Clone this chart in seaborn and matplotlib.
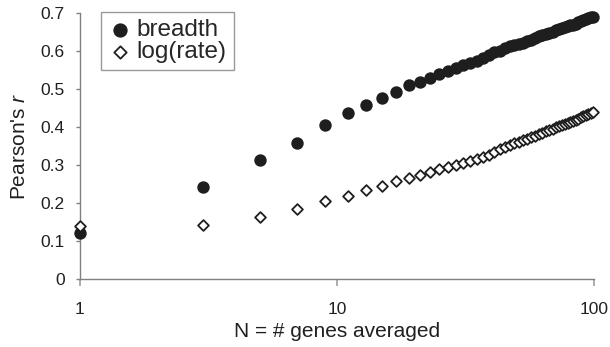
import numpy as np
import pandas as pd
import matplotlib
matplotlib.use("Agg")
import matplotlib.pyplot as plt
import seaborn as sns
from matplotlib.ticker import FixedLocator, NullLocator, FixedFormatter

# data: odd N from 1 to 99
n_genes = list(range(1, 100, 2))

breadth = [0.122, 0.242, 0.314, 0.360, 0.405, 0.437, 0.458, 0.478, 0.494, 0.512,
           0.520, 0.529, 0.540, 0.549, 0.557, 0.563, 0.569, 0.575, 0.582, 0.590,
           0.597, 0.602, 0.608, 0.613, 0.617, 0.620, 0.623, 0.627, 0.631, 0.635,
           0.639, 0.642, 0.645, 0.648, 0.652, 0.656, 0.658, 0.661, 0.663, 0.666,
           0.668, 0.670, 0.673, 0.676, 0.679, 0.682, 0.685, 0.687, 0.689, 0.691]

log_rate = [0.140, 0.143, 0.165, 0.186, 0.205, 0.218, 0.236, 0.245, 0.258, 0.266,
            0.274, 0.283, 0.290, 0.296, 0.300, 0.305, 0.311, 0.316, 0.322, 0.328,
            0.336, 0.344, 0.349, 0.354, 0.358, 0.362, 0.366, 0.370, 0.374, 0.378,
            0.382, 0.386, 0.389, 0.392, 0.396, 0.400, 0.403, 0.406, 0.408, 0.411,
            0.414, 0.416, 0.420, 0.423, 0.426, 0.429, 0.432, 0.435, 0.438, 0.441]

x_ticks = [1, 10, 100]
x_labels = ["1", "10", "100"]
y_ticks = [0, 0.1, 0.2, 0.3, 0.4, 0.5, 0.6, 0.7]
y_labels = ["0", "0.1", "0.2", "0.3", "0.4", "0.5", "0.6", "0.7"]

df = pd.DataFrame({"N": n_genes, "breadth": breadth, "log(rate)": log_rate})

sns.set_style("white")
plt.rcParams['font.family'] = ['Liberation Sans', 'DejaVu Sans']
plt.rcParams['mathtext.fontset'] = 'custom'
plt.rcParams['mathtext.it'] = 'Liberation Sans:italic'
plt.rcParams['mathtext.rm'] = 'Liberation Sans'

grey = '#808080'
ink = '#1e1e1e'

fig = plt.figure(figsize=(6.1, 3.47), dpi=100)
ax = fig.add_axes([0.1311, 0.195, 0.8427, 0.7667])

sns.scatterplot(data=df, x="N", y="breadth", ax=ax, s=80, color=ink,
                edgecolor=ink, linewidth=0, marker='o', label="breadth",
                clip_on=False, zorder=3)
sns.scatterplot(data=df, x="N", y="log(rate)", ax=ax, s=30, facecolor='white',
                edgecolor=ink, linewidth=1.3, marker='D', label="log(rate)",
                clip_on=False, zorder=4)

ax.set_xscale('log')
ax.set_xlim(1, 100)
ax.set_ylim(0, 0.7)
ax.xaxis.set_major_locator(FixedLocator(x_ticks))
ax.xaxis.set_major_formatter(FixedFormatter(x_labels))
ax.xaxis.set_minor_locator(NullLocator())
ax.set_yticks(y_ticks)
ax.set_yticklabels(y_labels)

for side in ['top', 'right']:
    ax.spines[side].set_visible(False)
for side in ['left', 'bottom']:
    ax.spines[side].set_color(grey)
    ax.spines[side].set_linewidth(1.0)

ax.tick_params(axis='x', direction='out', length=5, width=1.2, color='#a0a0a0',
               labelsize=12.5, pad=11, labelcolor='#202020', bottom=True)
ax.tick_params(axis='y', direction='out', length=3, width=1.0, color=grey,
               labelsize=12.5, pad=8, labelcolor='#202020', left=True)

ax.set_xlabel("N = # genes averaged", fontsize=15, color='#202020', labelpad=4)
ax.set_ylabel("Pearson's $\\it{r}$", fontsize=15, color='#202020')
ax.yaxis.set_label_coords(-0.099, 0.5)

leg = ax.legend(loc='upper left', bbox_to_anchor=(0.1656, 0.966),
                bbox_transform=fig.transFigure, borderaxespad=0,
                fontsize=17.5, frameon=True, fancybox=False,
                handlelength=1.0, handletextpad=0.15, borderpad=0.3,
                labelspacing=0.0, markerscale=1.15)
leg.get_frame().set_edgecolor(grey)
leg.get_frame().set_linewidth(1.0)

fig.savefig("out.png", dpi=100)
